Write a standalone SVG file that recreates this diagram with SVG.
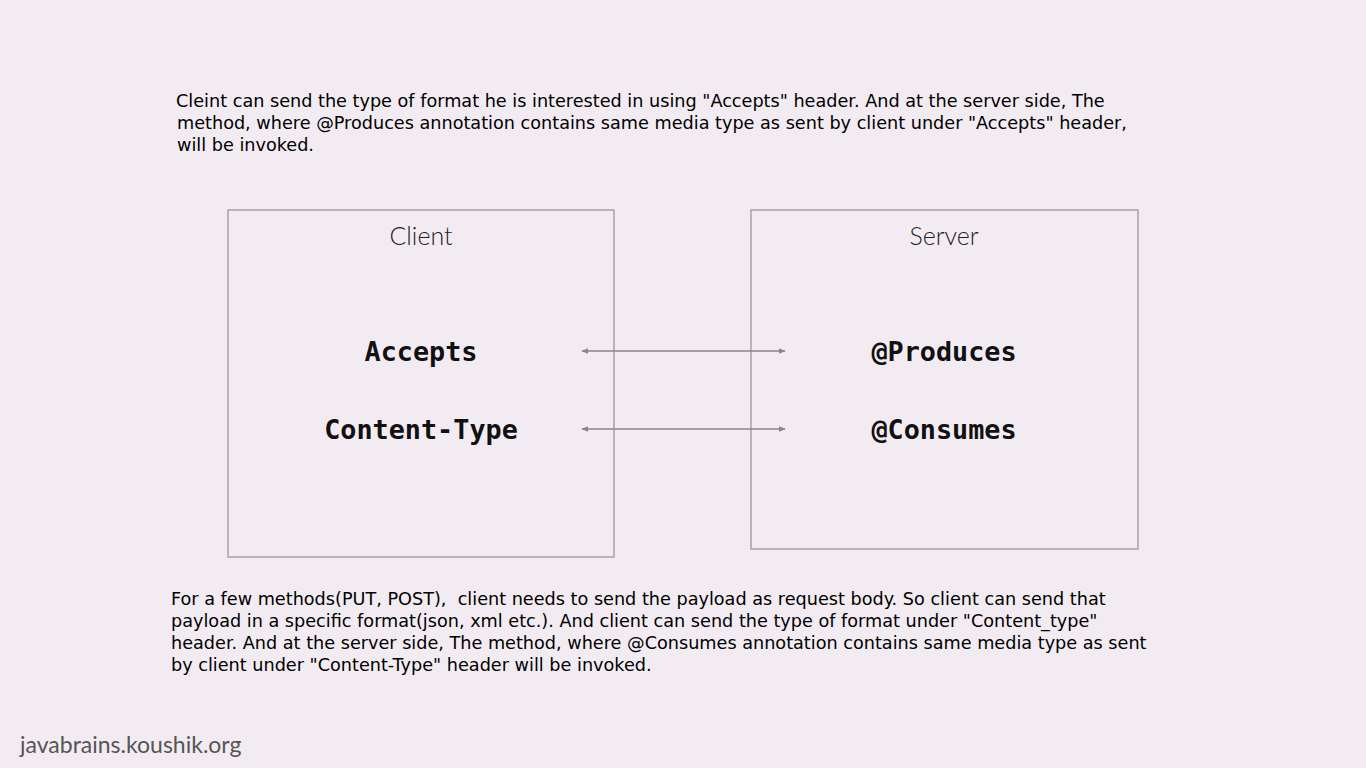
<svg xmlns="http://www.w3.org/2000/svg" width="1366" height="768" viewBox="0 0 1366 768">
<defs>
<style>
.para{font-family:"DejaVu Sans",sans-serif;font-size:17.65px;fill:#000;white-space:pre}
.box{fill:none;stroke:#a6a2a6;stroke-width:1.5}
.title{font-family:"Lato","Liberation Sans",sans-serif;font-weight:300;font-size:25px;fill:#1e1e1e;text-anchor:middle}
.code{font-family:"DejaVu Sans Mono",monospace;font-weight:bold;font-size:26.8px;fill:#111;text-anchor:middle}
.conn{stroke:#8a868a;stroke-width:1.3;fill:none}
</style>
<marker id="ah" viewBox="0 0 10 10" refX="9" refY="5" markerWidth="7" markerHeight="7" markerUnits="userSpaceOnUse" orient="auto-start-reverse">
<path d="M0,1 L10,5 L0,9 z" fill="#8a868a"/>
</marker>
</defs>
<rect width="1366" height="768" fill="#f2ecf2"/>
<g id="top-text" class="para">
<text x="176" y="107">Cleint can send the type of format he is interested in using "Accepts" header. And at the server side, The</text>
<text x="177" y="129">method, where @Produces annotation contains same media type as sent by client under "Accepts" header,</text>
<text x="177" y="151">will be invoked.</text>
</g>
<g id="client">
<rect class="box" x="228" y="210" width="386" height="347"/>
<text class="title" x="421" y="245">Client</text>
<text class="code" x="421" y="361">Accepts</text>
<text class="code" x="421" y="439">Content-Type</text>
</g>
<g id="server">
<rect class="box" x="751" y="210" width="387" height="339"/>
<text class="title" x="944" y="245">Server</text>
<text class="code" x="944" y="361">@Produces</text>
<text class="code" x="944" y="439">@Consumes</text>
</g>
<g id="connectors">
<line class="conn" x1="582" y1="351" x2="785" y2="351" marker-start="url(#ah)" marker-end="url(#ah)"/>
<line class="conn" x1="582" y1="429" x2="785" y2="429" marker-start="url(#ah)" marker-end="url(#ah)"/>
</g>
<g id="bottom-text" class="para">
<text x="171" y="605" xml:space="preserve">For a few methods(PUT, POST),  client needs to send the payload as request body. So client can send that</text>
<text x="171" y="627">payload in a specific format(json, xml etc.). And client can send the type of format under "Content_type"</text>
<text x="171" y="649">header. And at the server side, The method, where @Consumes annotation contains same media type as sent</text>
<text x="171" y="671">by client under "Content-Type" header will be invoked.</text>
</g>
<g id="footer">
<text x="20" y="753" style="font-family:'Lato','Liberation Sans',sans-serif;font-size:23px;fill:#555">javabrains.koushik.org</text>
</g>
</svg>
